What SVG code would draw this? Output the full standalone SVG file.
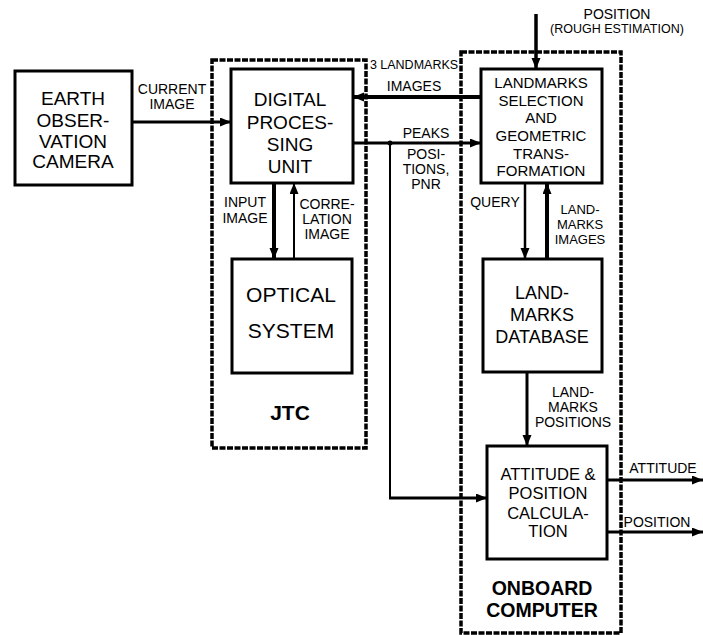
<svg xmlns="http://www.w3.org/2000/svg" width="703" height="635" viewBox="0 0 703 635">
<defs>
<style>
.box{fill:#fff;stroke:#000;stroke-width:3}
.grp{fill:none;stroke:#000;stroke-width:3.5;stroke-dasharray:6 1.5}
text{font-family:"Liberation Sans",Arial,sans-serif;fill:#000;text-anchor:middle;dominant-baseline:central}
.big{font-size:19px}
.mid{font-size:15px}
.calc{font-size:16.5px}
.lbl{font-size:14px}
.sm{font-size:12.5px}
.bold{font-weight:bold;font-size:19.5px}
.ln{fill:none;stroke:#000}
</style>
<marker id="ah" markerUnits="userSpaceOnUse" markerWidth="12" markerHeight="10" refX="11" refY="4.5" orient="auto"><path d="M0,0 L11,4.5 L0,9 z" fill="#000"/></marker>
</defs>
<rect width="703" height="635" fill="#fff"/>
<g id="jtc">
<rect class="grp" x="212" y="60" width="154" height="388"/>
<text class="bold" x="290" y="412" style="font-size:21px">JTC</text>
</g>
<g id="onboard">
<rect class="grp" x="461" y="52" width="160" height="581"/>
<text class="bold" x="542" y="588">ONBOARD</text>
<text class="bold" x="542" y="610">COMPUTER</text>
</g>
<g id="camera">
<rect class="box" x="15" y="71" width="117" height="114"/>
<text class="big" x="73" y="98">EARTH</text>
<text class="big" x="73" y="120">OBSER-</text>
<text class="big" x="73" y="141">VATION</text>
<text class="big" x="73" y="161">CAMERA</text>
</g>
<g id="dpu">
<rect class="box" x="231" y="69" width="122" height="114"/>
<text class="big" x="290" y="99">DIGITAL</text>
<text class="big" x="290" y="122">PROCES-</text>
<text class="big" x="290" y="144">SING</text>
<text class="big" x="290" y="166">UNIT</text>
</g>
<g id="optical">
<rect class="box" x="232" y="259" width="120" height="114"/>
<text class="big" x="291" y="294" style="font-size:21px">OPTICAL</text>
<text class="big" x="291" y="330" style="font-size:21px">SYSTEM</text>
</g>
<g id="selection">
<rect class="box" x="481" y="69" width="121" height="114"/>
<text class="mid" x="541" y="82">LANDMARKS</text>
<text class="mid" x="541" y="100">SELECTION</text>
<text class="mid" x="541" y="117">AND</text>
<text class="mid" x="541" y="135">GEOMETRIC</text>
<text class="mid" x="541" y="153">TRANS-</text>
<text class="mid" x="541" y="170">FORMATION</text>
</g>
<g id="database">
<rect class="box" x="483" y="259" width="119" height="113"/>
<text class="big" x="542" y="293" style="font-size:18px">LAND-</text>
<text class="big" x="542" y="315" style="font-size:18px">MARKS</text>
<text class="big" x="542" y="337" style="font-size:18px">DATABASE</text>
</g>
<g id="calc">
<rect class="box" x="487" y="446" width="120" height="113"/>
<text class="calc" x="548" y="474">ATTITUDE  &amp;</text>
<text class="calc" x="548" y="493">POSITION</text>
<text class="calc" x="548" y="513">CALCULA-</text>
<text class="calc" x="548" y="531">TION</text>
</g>
<g id="connectors">
<line class="ln" x1="132" y1="122" x2="231" y2="122" stroke-width="3" marker-end="url(#ah)"/>
<line class="ln" x1="481" y1="97" x2="353" y2="97" stroke-width="4" marker-end="url(#ah)"/>
<line class="ln" x1="353" y1="143" x2="481" y2="143" stroke-width="3" marker-end="url(#ah)"/>
<circle cx="390" cy="143" r="2.5" fill="#000"/>
<line class="ln" x1="390" y1="143" x2="390" y2="499" stroke-width="2"/>
<line class="ln" x1="389" y1="498" x2="487" y2="498" stroke-width="3" marker-end="url(#ah)"/>
<line class="ln" x1="274" y1="183" x2="274" y2="259" stroke-width="4" marker-end="url(#ah)"/>
<line class="ln" x1="294" y1="259" x2="294" y2="183" stroke-width="2" marker-end="url(#ah)"/>
<line class="ln" x1="536" y1="14" x2="536" y2="69" stroke-width="3.5" marker-end="url(#ah)"/>
<line class="ln" x1="525" y1="183" x2="525" y2="259" stroke-width="2.5" marker-end="url(#ah)"/>
<line class="ln" x1="547" y1="259" x2="547" y2="183" stroke-width="4" marker-end="url(#ah)"/>
<line class="ln" x1="527" y1="372" x2="527" y2="446" stroke-width="3" marker-end="url(#ah)"/>
<line class="ln" x1="607" y1="480" x2="703" y2="480" stroke-width="3" marker-end="url(#ah)"/>
<line class="ln" x1="607" y1="532" x2="703" y2="532" stroke-width="3" marker-end="url(#ah)"/>
<text class="lbl" x="172" y="89">CURRENT</text>
<text class="lbl" x="172" y="104">IMAGE</text>
<text class="sm" x="414" y="65">3 LANDMARKS</text>
<text class="lbl" x="414" y="86">IMAGES</text>
<text class="lbl" x="426" y="133">PEAKS</text>
<text class="lbl" x="426" y="154">POSI-</text>
<text class="lbl" x="426" y="169">TIONS,</text>
<text class="lbl" x="426" y="184">PNR</text>
<text class="lbl" x="245" y="202">INPUT</text>
<text class="lbl" x="245" y="218">IMAGE</text>
<text class="lbl" x="327" y="204">CORRE-</text>
<text class="lbl" x="327" y="219">LATION</text>
<text class="lbl" x="327" y="234">IMAGE</text>
<text class="lbl" x="617" y="14">POSITION</text>
<text class="sm" x="617" y="29">(ROUGH ESTIMATION)</text>
<text class="lbl" x="495" y="202">QUERY</text>
<text class="lbl" x="580" y="209" style="font-size:13px">LAND-</text>
<text class="lbl" x="580" y="224" style="font-size:13px">MARKS</text>
<text class="lbl" x="580" y="239" style="font-size:13px">IMAGES</text>
<text class="lbl" x="573" y="392">LAND-</text>
<text class="lbl" x="573" y="407">MARKS</text>
<text class="lbl" x="573" y="422">POSITIONS</text>
<text class="lbl" x="663" y="468">ATTITUDE</text>
<text class="lbl" x="657" y="522">POSITION</text>
</g>
</svg>
